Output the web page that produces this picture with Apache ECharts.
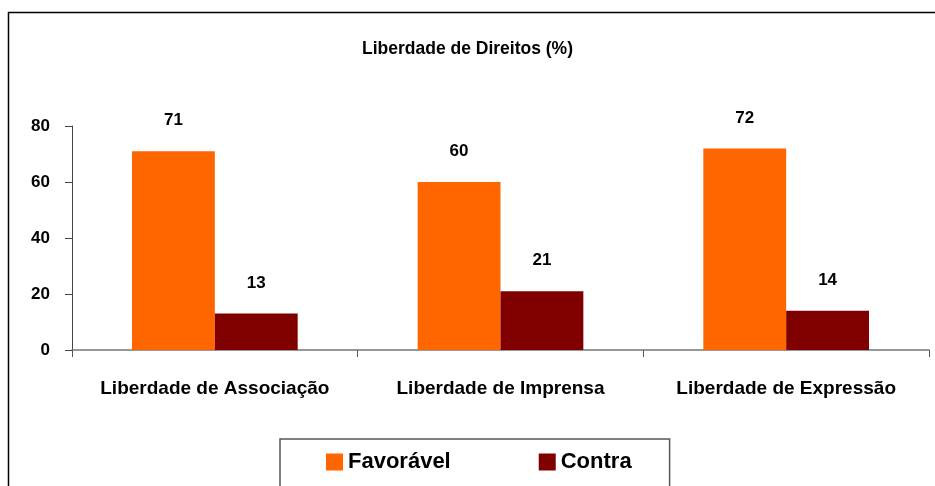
<!DOCTYPE html>
<html>
<head>
<meta charset="utf-8">
<script src="https://cdn.jsdelivr.net/npm/echarts@6/dist/echarts.min.js"></script>
<style>
  html, body { margin: 0; padding: 0; background: #fff; }
  #chart { width: 935px; height: 486px; }
</style>
</head>
<body>
<div id="chart"></div>
<script>
const categories = ['Liberdade de Associação', 'Liberdade de Imprensa', 'Liberdade de Expressão']
const favoravel = [71, 60, 72]
const contra = [13, 21, 14]
const yTicks = [0, 20, 40, 60, 80]

const font = '"Liberation Sans", Arial, sans-serif'
const chart = echarts.init(document.getElementById('chart'), null, { renderer: 'canvas' })

const labelStyle = {
  show: true,
  position: 'top',
  distance: 22,
  color: '#000',
  fontFamily: font,
  fontWeight: 'bold',
  fontSize: 17,
}

chart.setOption({
  animation: false,
  backgroundColor: '#fff',
  title: {
    text: 'Liberdade de Direitos (%)',
    left: 'center',
    top: 35,
    textStyle: { fontFamily: font, fontWeight: 'bold', fontSize: 17.5, color: '#000' },
  },
  graphic: [
    {
      type: 'rect',
      shape: { x: 8.5, y: 12.5, width: 1000, height: 600 },
      style: { fill: null, stroke: '#000', lineWidth: 1.5 },
      silent: true,
    },
  ],
  legend: {
    data: ['Favorável', 'Contra'],
    left: 280,
    top: 439,
    icon: 'rect',
    itemWidth: 17,
    itemHeight: 17,
    itemGap: 88,
    padding: [12, 38, 14, 46],
    borderColor: '#555',
    borderWidth: 1.5,
    textStyle: { fontFamily: font, fontWeight: 'bold', fontSize: 22, color: '#000' },
  },
  grid: { left: 72, right: 6, top: 126, bottom: 136 },
  xAxis: {
    type: 'category',
    data: categories,
    axisLine: { lineStyle: { color: '#777', width: 1.5 } },
    axisTick: { show: true, length: 7, lineStyle: { color: '#555' } },
    axisLabel: {
      interval: 0,
      hideOverlap: false,
      margin: 29,
      color: '#000',
      fontFamily: font,
      fontWeight: 'bold',
      fontSize: 19,
    },
  },
  yAxis: {
    type: 'value',
    min: yTicks[0],
    max: yTicks[yTicks.length - 1],
    interval: 20,
    axisLine: { show: true, lineStyle: { color: '#444', width: 1 } },
    axisTick: { show: true, length: 7, lineStyle: { color: '#444' } },
    splitLine: { show: false },
    axisLabel: {
      margin: 22,
      color: '#000',
      fontFamily: font,
      fontWeight: 'bold',
      fontSize: 17,
    },
  },
  series: [
    {
      name: 'Favorável',
      type: 'bar',
      data: favoravel,
      barGap: '0%',
      barCategoryGap: '42%',
      itemStyle: { color: '#ff6600' },
      label: labelStyle,
    },
    {
      name: 'Contra',
      type: 'bar',
      data: contra,
      itemStyle: { color: '#800000' },
      label: labelStyle,
    },
  ],
})
</script>
</body>
</html>
